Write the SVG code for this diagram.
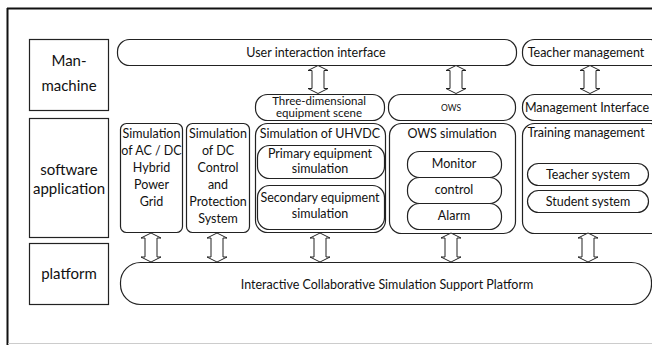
<svg xmlns="http://www.w3.org/2000/svg" width="652" height="345" viewBox="0 0 652 345">
<style>
text{font-family:Lato,"Liberation Sans",sans-serif;fill:#111;text-anchor:middle}
.lbl{font-size:15px}
.t{font-size:12.5px}
.s{font-size:11.5px}
.box{fill:#fff;stroke:#222;stroke-width:1.2}
.arr{fill:#fff;stroke:#222;stroke-width:1}
</style>
<rect width="652" height="345" fill="#fff"/>
<g id="frame">
<line x1="7" y1="8.5" x2="652" y2="8.5" stroke="#111" stroke-width="2"/>
<line x1="7.5" y1="8" x2="7.5" y2="345" stroke="#111" stroke-width="2"/>
<line x1="8" y1="343.5" x2="652" y2="343.5" stroke="#ccc" stroke-width="1"/>
</g>
<g id="layer-man-machine">
<rect class="box" x="29.5" y="39.5" width="79" height="71"/>
<text class="lbl" x="69" y="66">Man-</text>
<text class="lbl" x="69" y="91">machine</text>
</g>
<g id="layer-software">
<rect class="box" x="29.5" y="118.5" width="79" height="119"/>
<text class="lbl" x="69" y="175">software</text>
<text class="lbl" x="69" y="194">application</text>
</g>
<g id="layer-platform">
<rect class="box" x="29.5" y="243.5" width="79" height="61"/>
<text class="lbl" x="69" y="279">platform</text>
</g>
<g id="user-interaction">
<rect class="box" x="117.5" y="39.5" width="399" height="26" rx="12"/>
<text class="t" x="316" y="57">User interaction interface</text>
</g>
<g id="teacher-management">
<rect class="box" x="522.5" y="39.5" width="140" height="26" rx="12"/>
<text class="t" x="586" y="57">Teacher management</text>
</g>
<g id="three-dim">
<rect class="box" x="255.5" y="94.5" width="129" height="26" rx="12"/>
<text class="s" x="319" y="105">Three-dimensional</text>
<text class="s" x="319" y="116.5">equipment scene</text>
</g>
<g id="ows">
<rect class="box" x="388.5" y="94.5" width="127" height="26" rx="12"/>
<text x="451" y="111" style="font-size:8.5px">OWS</text>
</g>
<g id="management-interface">
<rect class="box" x="522.5" y="94.5" width="140" height="26" rx="12"/>
<text class="t" x="587" y="112">Management Interface</text>
</g>
<g id="sim-acdc">
<rect class="box" x="120.5" y="123.5" width="62" height="109" rx="6"/>
<text class="t" x="151.5" y="138">Simulation</text>
<text class="t" x="151.5" y="155">of AC / DC</text>
<text class="t" x="151.5" y="172">Hybrid</text>
<text class="t" x="151.5" y="189">Power</text>
<text class="t" x="151.5" y="206">Grid</text>
</g>
<g id="sim-dc-control">
<rect class="box" x="186.5" y="123.5" width="63" height="109" rx="6"/>
<text class="t" x="218" y="138">Simulation</text>
<text class="t" x="218" y="155">of DC</text>
<text class="t" x="218" y="172">Control</text>
<text class="t" x="218" y="189">and</text>
<text class="t" x="218" y="206">Protection</text>
<text class="t" x="218" y="223">System</text>
</g>
<g id="sim-uhvdc">
<rect class="box" x="255.5" y="123.5" width="130" height="109" rx="12"/>
<text class="t" x="320" y="138">Simulation of UHVDC</text>
<rect class="box" x="257.5" y="145.5" width="127" height="33" rx="12"/>
<text class="t" x="320" y="158">Primary equipment</text>
<text class="t" x="320" y="173">simulation</text>
<rect class="box" x="257.5" y="185.5" width="127" height="44" rx="12"/>
<text class="t" x="320" y="202">Secondary equipment</text>
<text class="t" x="320" y="218">simulation</text>
</g>
<g id="ows-simulation">
<rect class="box" x="389.5" y="123.5" width="126" height="110" rx="12"/>
<text class="t" x="452" y="138">OWS simulation</text>
<rect class="box" x="407.5" y="151.5" width="94" height="26" rx="12"/>
<text class="t" x="454" y="168">Monitor</text>
<rect class="box" x="407.5" y="177.5" width="94" height="26" rx="12"/>
<text class="t" x="454" y="194">control</text>
<rect class="box" x="407.5" y="203.5" width="94" height="26" rx="12"/>
<text class="t" x="454" y="220">Alarm</text>
</g>
<g id="training-management">
<rect class="box" x="522.5" y="123.5" width="140" height="110" rx="12"/>
<text class="t" x="586" y="137">Training management</text>
<rect class="box" x="527.5" y="163.5" width="121" height="22" rx="11"/>
<text class="t" x="588" y="179">Teacher system</text>
<rect class="box" x="527.5" y="190.5" width="121" height="22" rx="11"/>
<text class="t" x="588" y="206">Student system</text>
</g>
<g id="platform">
<rect class="box" x="120.5" y="262.5" width="531" height="42" rx="20"/>
<text class="t" x="387" y="289">Interactive Collaborative Simulation Support Platform</text>
</g>
<g id="connectors">
<path class="arr" d="M318,65.5 l10,5 h-4 v18 h4 l-10,5 l-10,-5 h4 v-18 h-4 z"/>
<path class="arr" d="M456,65.5 l10,5 h-4 v18 h4 l-10,5 l-10,-5 h4 v-18 h-4 z"/>
<path class="arr" d="M590,65.5 l10,5 h-4 v18 h4 l-10,5 l-10,-5 h4 v-18 h-4 z"/>
<path class="arr" d="M151,233 l10,5 h-4 v19 h4 l-10,5 l-10,-5 h4 v-19 h-4 z"/>
<path class="arr" d="M217,233 l10,5 h-4 v19 h4 l-10,5 l-10,-5 h4 v-19 h-4 z"/>
<path class="arr" d="M320,233 l10,5 h-4 v19 h4 l-10,5 l-10,-5 h4 v-19 h-4 z"/>
<path class="arr" d="M451,233 l10,5 h-4 v19 h4 l-10,5 l-10,-5 h4 v-19 h-4 z"/>
<path class="arr" d="M588,233 l10,5 h-4 v19 h4 l-10,5 l-10,-5 h4 v-19 h-4 z"/>
</g>
</svg>
